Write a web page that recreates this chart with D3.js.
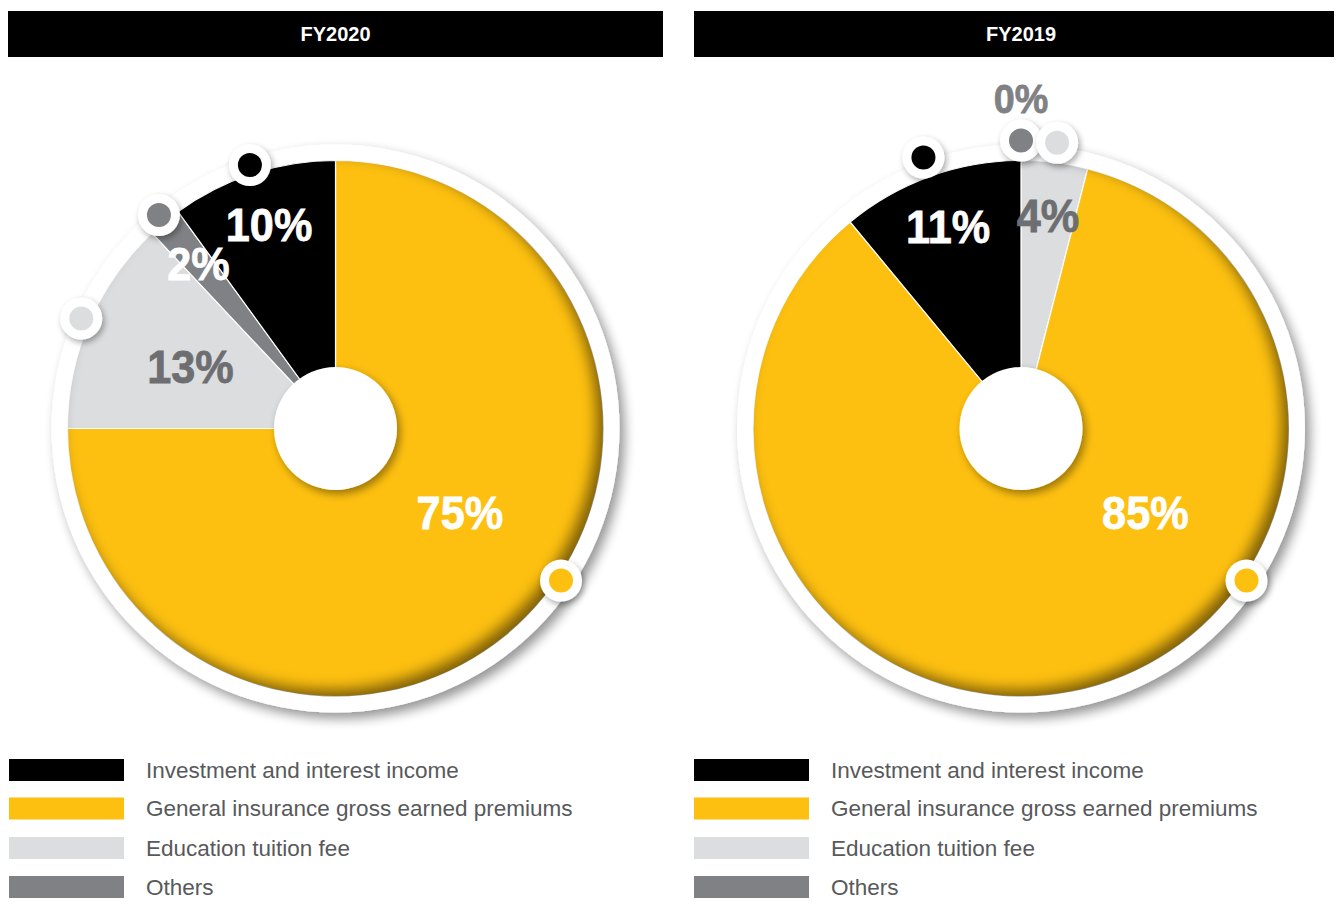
<!DOCTYPE html>
<html>
<head>
<meta charset="utf-8">
<script src="https://cdn.jsdelivr.net/npm/d3@7"></script>
<style>
  body { margin: 0; background: #ffffff; }
  svg { display: block; }
</style>
</head>
<body>
<svg id="chart" width="1339" height="906"></svg>
<script>
// Revenue mix by segment, two financial years
const categories = [
  "Investment and interest income",
  "General insurance gross earned premiums",
  "Education tuition fee",
  "Others"
];
const sliceColors = ["#000000", "#FDC010", "#DCDDDE", "#808184"];
const yearTitles = ["FY2020", "FY2019"];
const shares2020 = [10, 75, 13, 2];   // % of total revenue
const shares2019 = [11, 85, 4, 0];
// clockwise order of the segments, starting from 12 o'clock
const order2020 = [1, 2, 3, 0];
const order2019 = [2, 1, 0, 3];

const svg = d3.select("#chart");
const defs = svg.append("defs");

function shadowFilter(id, blur, dx, dy, opacity) {
  const f = defs.append("filter").attr("id", id)
    .attr("x", "-30%").attr("y", "-30%").attr("width", "160%").attr("height", "160%");
  f.append("feGaussianBlur").attr("in", "SourceAlpha").attr("stdDeviation", blur);
  f.append("feOffset").attr("dx", dx).attr("dy", dy);
  f.append("feComponentTransfer").append("feFuncA").attr("type", "linear").attr("slope", opacity);
  const m = f.append("feMerge");
  m.append("feMergeNode");
  m.append("feMergeNode").attr("in", "SourceGraphic");
}
shadowFilter("ringShadow", 6, 5, 6, 0.42);
shadowFilter("holeShadow", 4, 3, 4, 0.4);
shadowFilter("markerShadow", 3, 2, 3, 0.35);
defs.append("filter").attr("id", "soften")
  .attr("x", "-20%").attr("y", "-20%").attr("width", "140%").attr("height", "140%")
  .append("feGaussianBlur").attr("stdDeviation", 7);

const pieR = 268, ringR = 284, holeR = 61.5, markerOuter = 21, markerInner = 12;
const leadAngle = 124 * Math.PI / 180;   // where the dominant segment is annotated

const panels = [
  { title: yearTitles[0], values: shares2020, order: order2020, cx: 335.5, cy: 428.5,
    barX0: 8, barX1: 663, legendX: 9, markerR: 277 },
  { title: yearTitles[1], values: shares2019, order: order2019, cx: 1021, cy: 428.5,
    barX0: 694, barX1: 1334, legendX: 694, markerR: 288 }
];

const polar = (r, a) => [r * Math.sin(a), -r * Math.cos(a)];

const pie = d3.pie().sort(null).value(d => d.value).startAngle(0).endAngle(2 * Math.PI);
const arc = d3.arc().innerRadius(0).outerRadius(pieR);

panels.forEach((p, pi) => {
  // header bar
  svg.append("rect").attr("x", p.barX0).attr("y", 11)
    .attr("width", p.barX1 - p.barX0).attr("height", 46).attr("fill", "#000");
  svg.append("text").attr("x", p.cx).attr("y", 41)
    .attr("text-anchor", "middle")
    .attr("font-family", "'Liberation Sans', Arial, sans-serif")
    .attr("font-weight", "bold").attr("font-size", 20).attr("fill", "#fff")
    .text(p.title);

  const g = svg.append("g").attr("transform", `translate(${p.cx},${p.cy})`);

  // white ring behind the pie
  g.append("circle").attr("r", ringR).attr("fill", "#fff").attr("filter", "url(#ringShadow)");

  const data = p.order.map(i => ({ idx: i, value: p.values[i] }));
  const arcs = pie(data);
  const maxVal = d3.max(p.values);

  g.selectAll("path.slice").data(arcs).join("path")
    .attr("class", "slice")
    .attr("d", arc)
    .attr("fill", d => sliceColors[d.data.idx])
    .attr("stroke", "#fff").attr("stroke-width", d => d.data.value > 0 ? 1.2 : 0);

  // soft shading along the pie rim
  const clipId = "pieClip" + pi;
  defs.append("clipPath").attr("id", clipId).append("circle")
    .attr("cx", p.cx).attr("cy", p.cy).attr("r", pieR);
  svg.append("g").attr("clip-path", `url(#${clipId})`)
    .append("circle")
    .attr("cx", p.cx - 7).attr("cy", p.cy - 7).attr("r", pieR + 25)
    .attr("fill", "none").attr("stroke", "#000").attr("stroke-opacity", 0.5)
    .attr("stroke-width", 50).attr("filter", "url(#soften)");

  const top = svg.append("g").attr("transform", `translate(${p.cx},${p.cy})`);

  // centre hole
  top.append("circle").attr("r", holeR).attr("fill", "#fff").attr("filter", "url(#holeShadow)");

  // markers on the ring (drawn left to right so overlapping ones stack neatly)
  const markers = arcs.map(d => {
    const isLead = d.data.value === maxVal;
    const a = isLead ? leadAngle : (d.startAngle + d.endAngle) / 2;
    const [x, y] = polar(isLead ? 272 : p.markerR, a);
    return { x, y, color: sliceColors[d.data.idx] };
  }).sort((m1, m2) => m1.x - m2.x);
  markers.forEach(m => {
    const mg = top.append("g").attr("transform", `translate(${m.x},${m.y})`);
    mg.append("circle").attr("r", markerOuter).attr("fill", "#fff").attr("filter", "url(#markerShadow)");
    mg.append("circle").attr("r", markerInner).attr("fill", m.color);
  });

  // percentage labels
  arcs.forEach(d => {
    const v = d.data.value;
    const isLead = v === maxVal;
    let a = (d.startAngle + d.endAngle) / 2, r, size = 47, fill = "#fff";
    if (isLead) { a = leadAngle; r = 150; }
    else if (v === 0) { r = 330; size = 41; fill = "#808184"; }
    else if (v < 12) { r = 215; }
    else { r = 158; }
    if (v > 0 && sliceColors[d.data.idx] === "#DCDDDE") fill = "#6D6E71";
    const [x, y] = polar(r, a);
    top.append("text")
      .attr("transform", `translate(${x},${y}) scale(0.92,1)`)
      .attr("text-anchor", "middle").attr("dy", "0.36em")
      .attr("font-family", "'Liberation Sans', Arial, sans-serif")
      .attr("font-weight", "bold").attr("font-size", size)
      .attr("fill", fill).attr("stroke", fill).attr("stroke-width", 0.8)
      .text(v + "%");
  });

  // legend
  const rowY = [770, 808.5, 848, 887];
  categories.forEach((c, i) => {
    svg.append("rect").attr("x", p.legendX).attr("y", rowY[i] - 11)
      .attr("width", 115).attr("height", 22).attr("fill", sliceColors[i]);
    svg.append("text").attr("x", p.legendX + 137).attr("y", rowY[i] + 7.5)
      .attr("font-family", "'Liberation Sans', Arial, sans-serif")
      .attr("font-size", 22.5).attr("fill", "#58595B")
      .text(c);
  });
});
</script>
</body>
</html>
